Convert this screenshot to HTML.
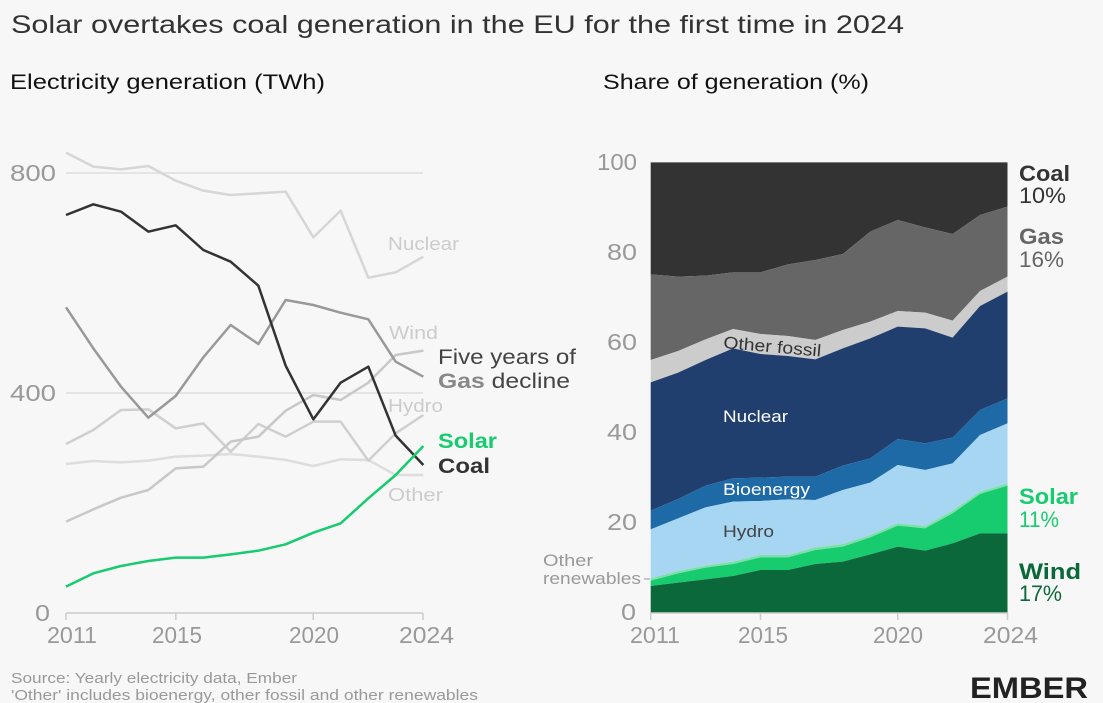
<!DOCTYPE html>
<html><head><meta charset="utf-8"><style>
body{margin:0;background:#f7f7f7;font-family:"Liberation Sans",sans-serif;}
svg{display:block}
</style></head><body>
<svg id="s" width="1103" height="703" xmlns="http://www.w3.org/2000/svg" style="background:#f7f7f7">
<text x="11" y="33" font-size="25" fill="#333" textLength="893" lengthAdjust="spacingAndGlyphs">Solar overtakes coal generation in the EU for the first time in 2024</text>
<text x="10" y="89" font-size="21" fill="#111" textLength="315" lengthAdjust="spacingAndGlyphs">Electricity generation (TWh)</text>
<text x="603" y="89" font-size="21" fill="#111" textLength="266" lengthAdjust="spacingAndGlyphs">Share of generation (%)</text>
<g id="L"></g><g id="R"></g>
<g font-size="23" fill="#999" lengthAdjust="spacingAndGlyphs">
<text x="10" y="181" textLength="46" lengthAdjust="spacingAndGlyphs">800</text>
<text x="10" y="401" textLength="46" lengthAdjust="spacingAndGlyphs">400</text>
<text x="35" y="621" textLength="15" lengthAdjust="spacingAndGlyphs">0</text>
<text x="47" y="643" textLength="50" lengthAdjust="spacingAndGlyphs">2011</text>
<text x="152" y="643" textLength="50" lengthAdjust="spacingAndGlyphs">2015</text>
<text x="289" y="643" textLength="50" lengthAdjust="spacingAndGlyphs">2020</text>
<text x="399" y="643" textLength="55" lengthAdjust="spacingAndGlyphs">2024</text>
<text x="597" y="170" textLength="40" lengthAdjust="spacingAndGlyphs">100</text>
<text x="607" y="260" textLength="30" lengthAdjust="spacingAndGlyphs">80</text>
<text x="607" y="350" textLength="30" lengthAdjust="spacingAndGlyphs">60</text>
<text x="607" y="440" textLength="30" lengthAdjust="spacingAndGlyphs">40</text>
<text x="607" y="530" textLength="30" lengthAdjust="spacingAndGlyphs">20</text>
<text x="621" y="620" textLength="15" lengthAdjust="spacingAndGlyphs">0</text>
<text x="630" y="643" textLength="50" lengthAdjust="spacingAndGlyphs">2011</text>
<text x="738" y="643" textLength="50" lengthAdjust="spacingAndGlyphs">2015</text>
<text x="873" y="643" textLength="50" lengthAdjust="spacingAndGlyphs">2020</text>
<text x="983" y="643" textLength="55" lengthAdjust="spacingAndGlyphs">2024</text>
</g>
<g font-size="18" fill="#ccc">
<text x="388" y="250" textLength="71" lengthAdjust="spacingAndGlyphs">Nuclear</text>
<text x="389" y="339" textLength="49" lengthAdjust="spacingAndGlyphs">Wind</text>
<text x="388" y="412" textLength="55" lengthAdjust="spacingAndGlyphs">Hydro</text>
<text x="388" y="501" textLength="55" lengthAdjust="spacingAndGlyphs">Other</text>
</g>
<text x="438" y="364" font-size="21" fill="#444" textLength="138" lengthAdjust="spacingAndGlyphs">Five years of</text>
<text x="438" y="388" font-size="21" fill="#444" textLength="132" lengthAdjust="spacingAndGlyphs"><tspan font-weight="bold" fill="#888">Gas</tspan> decline</text>
<text x="438" y="448" font-size="21" font-weight="bold" fill="#17cb6f" textLength="59" lengthAdjust="spacingAndGlyphs">Solar</text>
<text x="438" y="473" font-size="21" font-weight="bold" fill="#333" textLength="52" lengthAdjust="spacingAndGlyphs">Coal</text>
<g font-size="17" fill="#fff">
<text x="723" y="348" fill="#333" transform="rotate(5 723 348)" textLength="98" lengthAdjust="spacingAndGlyphs">Other fossil</text>
<text x="723" y="422" textLength="65" lengthAdjust="spacingAndGlyphs">Nuclear</text>
<text x="723" y="495" textLength="87" lengthAdjust="spacingAndGlyphs">Bioenergy</text>
<text x="723" y="537" fill="#444" textLength="51" lengthAdjust="spacingAndGlyphs">Hydro</text>
</g>
<text x="543" y="566" font-size="17" fill="#999" textLength="50" lengthAdjust="spacingAndGlyphs">Other</text>
<text x="543" y="584" font-size="17" fill="#999" textLength="98" lengthAdjust="spacingAndGlyphs">renewables</text>
<line x1="644" y1="579" x2="650" y2="579" stroke="#999"/>
<g font-size="22">
<text x="1019" y="181" font-weight="bold" fill="#333" textLength="51" lengthAdjust="spacingAndGlyphs">Coal</text>
<text x="1019" y="203" fill="#333" textLength="47" lengthAdjust="spacingAndGlyphs">10%</text>
<text x="1019" y="244" font-weight="bold" fill="#666" textLength="45" lengthAdjust="spacingAndGlyphs">Gas</text>
<text x="1019" y="267" fill="#666" textLength="45" lengthAdjust="spacingAndGlyphs">16%</text>
<text x="1019" y="504" font-weight="bold" fill="#17cb6f" textLength="59" lengthAdjust="spacingAndGlyphs">Solar</text>
<text x="1019" y="527" fill="#17cb6f" textLength="40" lengthAdjust="spacingAndGlyphs">11%</text>
<text x="1019" y="579" font-weight="bold" fill="#0b683a" textLength="62" lengthAdjust="spacingAndGlyphs">Wind</text>
<text x="1019" y="601" fill="#0b683a" textLength="43" lengthAdjust="spacingAndGlyphs">17%</text>
</g>
<text x="11" y="683" font-size="15" fill="#999" textLength="286" lengthAdjust="spacingAndGlyphs">Source: Yearly electricity data, Ember</text>
<text x="11" y="700" font-size="15" fill="#999" textLength="467" lengthAdjust="spacingAndGlyphs">'Other' includes bioenergy, other fossil and other renewables</text>
<text x="970" y="698" font-size="30" font-weight="bold" fill="#222" textLength="118" lengthAdjust="spacingAndGlyphs">EMBER</text>
</svg>
<script>
const NS="http://www.w3.org/2000/svg";
function el(p,t,a){const e=document.createElementNS(NS,t);for(const k in a)e.setAttribute(k,a[k]);p.appendChild(e);return e;}
const L=document.getElementById('L'),R=document.getElementById('R');
el(L,'line',{x1:66,y1:173,x2:423,y2:173,stroke:'#ddd','stroke-width':1.5});
el(L,'line',{x1:66,y1:393,x2:423,y2:393,stroke:'#ddd','stroke-width':1.5});
el(L,'line',{x1:66,y1:613,x2:423,y2:613,stroke:'#ccc','stroke-width':1.5});
[2011,2015,2020,2024].forEach(y=>{const x=66+(y-2011)*357/13;el(L,'line',{x1:x,y1:613,x2:x,y2:620,stroke:'#ccc','stroke-width':1.5});});
const zx=[198,280,363,445,527,610,692,775,857,940,1022,1105,1187,1270];
function line(ys,c,w){el(L,'polyline',{points:ys.map((y,i)=>(zx[i]/3)+','+(y/3+140)).join(' '),fill:'none',stroke:c,'stroke-width':w,'stroke-linejoin':'round'});}
line([38,80,88,78,122,152,165,160,155,292,212,413,397,350],'#d6d6d6',2.5);
line([972,963,967,962,950,947,942,950,960,978,958,960,1005,1005],'#ddd',2.5);
line([912,870,810,808,865,850,935,852,890,845,845,962,880,825],'#cfcfcf',2.5);
line([1145,1108,1073,1050,985,980,905,890,812,765,780,728,645,632],'#c8c8c8',2.5);
line([502,625,740,833,768,652,555,612,480,495,518,538,665,710],'#999',2.5);
line([225,193,215,275,256,330,365,437,677,838,728,680,887,975],'#333',2.5);
line([1340,1300,1278,1263,1253,1253,1243,1232,1213,1178,1150,1075,1005,918],'#17cb6f',2.5);
const B=[
[67,67,67,67,67,67,67,67,67,67,67,67,67,67],
[403,410,407,397,397,373,360,342,275,240,262,282,225,200],
[660,633,598,567,582,588,600,570,545,513,518,542,453,410],
[727,698,660,625,642,648,658,625,595,560,565,593,498,455],
[1112,1077,1037,1015,1013,1010,1010,977,955,897,910,893,810,775],
[1168,1135,1102,1085,1083,1078,1080,1050,1028,975,990,970,885,850],
[1315,1293,1277,1265,1245,1245,1222,1212,1185,1150,1158,1112,1055,1030],
[1322,1300,1283,1272,1252,1252,1230,1220,1192,1157,1165,1120,1062,1037],
[1338,1328,1318,1308,1290,1290,1272,1265,1243,1220,1232,1210,1180,1180],
[1418,1418,1418,1418,1418,1418,1418,1418,1418,1418,1418,1418,1418,1418]];
const cols=['#333333','#666666','#cccccc','#213f6e','#1e6aa6','#a6d6f2','#7ee0a8','#17cb6f','#0b683a'];
const X=i=>650.7+i*(1007.5-650.7)/13, Y=z=>140+z/3;
for(let k=0;k<9;k++){let pts=[];for(let i=0;i<14;i++)pts.push(X(i)+','+Y(B[k][i]));for(let i=13;i>=0;i--)pts.push(X(i)+','+Y(B[k+1][i]));el(R,'polygon',{points:pts.join(' '),fill:cols[k]});}
el(R,'line',{x1:650,y1:613,x2:1008,y2:613,stroke:'#ccc','stroke-width':1.5});
[0,4,9,13].forEach(i=>el(R,'line',{x1:X(i),y1:613,x2:X(i),y2:620,stroke:'#ccc','stroke-width':1.5}));
</script>
</body></html>
